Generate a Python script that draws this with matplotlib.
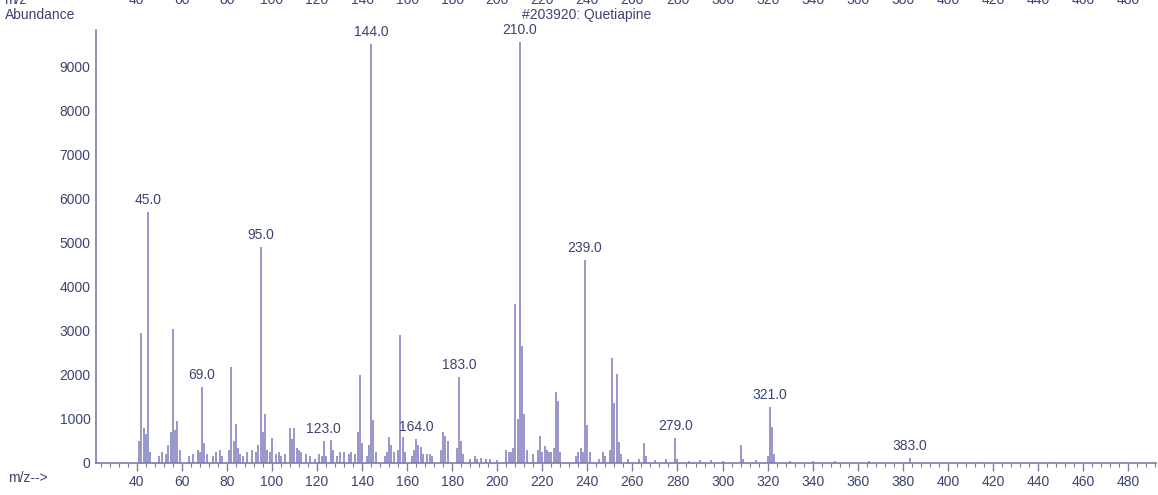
import matplotlib
matplotlib.use("Agg")
import matplotlib.pyplot as plt
from matplotlib.ticker import MultipleLocator
from matplotlib.transforms import blended_transform_factory

plt.rcParams["font.family"] = ["Liberation Sans", "DejaVu Sans"]

TITLE = "#203920: Quetiapine"

# ion m/z and abundance
mz = [41, 42, 43, 44, 45, 46, 50, 51, 53, 54, 55, 56, 57, 58, 59,
      63, 65, 67, 68, 69, 70, 71, 74, 75, 77, 78,
      81, 82, 83, 84, 85, 86, 87, 89, 91, 93, 94, 95, 96, 97, 98, 99, 100,
      102, 103, 104, 106, 108, 109, 110, 111, 112, 113, 115, 117, 119,
      121, 122, 123, 124, 126, 127, 129, 130, 132, 134, 135, 137,
      138, 139, 140, 142, 143, 144, 145, 146,
      150, 151, 152, 153, 154, 156, 157, 158, 159,
      162, 163, 164, 165, 166, 167, 169, 170, 171,
      175, 176, 177, 178, 182, 183, 184, 185,
      188, 190, 191, 193, 195, 197, 200,
      204, 205, 206, 207, 208, 209, 210, 211, 212, 213,
      216, 218, 219, 220, 221, 222, 223, 224, 225, 226, 227, 228,
      235, 236, 237, 238, 239, 240, 241,
      245, 247, 248, 250, 251, 252, 253, 254, 255,
      258, 263, 265, 266, 270, 275, 279, 280, 285, 290, 295, 300,
      308, 309, 315, 320, 321, 322, 323, 330, 340, 350, 365, 383]
abundance = [500, 2950, 800, 650, 5700, 250, 150, 250, 200, 400, 700, 3040, 750, 960, 300,
             150, 200, 300, 250, 1720, 450, 200, 150, 250, 300, 150,
             300, 2180, 500, 880, 350, 200, 150, 250, 300, 250, 400, 4900, 700, 1100, 300, 250, 560,
             200, 250, 150, 200, 800, 550, 800, 350, 300, 250, 200, 150, 100,
             200, 150, 500, 150, 520, 300, 150, 250, 250, 200, 250, 200,
             700, 2000, 450, 150, 400, 9500, 970, 250,
             150, 250, 600, 400, 250, 300, 2900, 600, 250,
             150, 300, 550, 400, 370, 200, 200, 200, 150,
             300, 700, 620, 500, 350, 1950, 500, 200,
             100, 150, 100, 120, 100, 80, 60,
             300, 250, 250, 350, 3600, 1000, 9550, 2650, 1100, 300,
             200, 300, 620, 250, 380, 300, 250, 250, 350, 1620, 1400, 250,
             150, 250, 350, 250, 4600, 860, 250,
             100, 260, 150, 300, 2370, 1350, 2020, 480, 200,
             80, 100, 450, 150, 60, 80, 560, 100, 50, 60, 60, 50,
             410, 80, 60, 150, 1280, 820, 200, 50, 40, 40, 40, 110]

# annotated ions
label_mz = [45, 69, 95, 123, 144, 164, 183, 210, 239, 279, 321, 383]

# tick labels of the panel above (only their lower edge shows)
upper_ticks = list(range(40, 481, 20))

TEXT = "#3b4470"
PEAK = "#8f8fc6"
AXIS = "#7c7caa"

fig = plt.figure(figsize=(11.58, 4.95), dpi=100)
ax = fig.add_axes([96 / 1158, 32 / 495, (1156 - 96) / 1158, (463 - 30) / 495])

ax.vlines(mz, 0, abundance, color=PEAK, lw=1.3)

lookup = dict(zip(mz, abundance))
for m in label_mz:
    ax.annotate(f"{m:.1f}", (m, lookup[m]), xytext=(0, 5),
                textcoords="offset pixels", ha="center", va="bottom",
                fontsize=10, color=TEXT, annotation_clip=False)

ax.set_xlim(21.9, 492.4)
ax.set_ylim(0, 9820)
ax.xaxis.set_major_locator(MultipleLocator(20))
ax.xaxis.set_minor_locator(MultipleLocator(4))
ax.yaxis.set_major_locator(MultipleLocator(1000))
ax.set_xticks([t for t in range(40, 481, 20)])

for side in ("top", "right"):
    ax.spines[side].set_visible(False)
for side in ("left", "bottom"):
    ax.spines[side].set_color(AXIS)
    ax.spines[side].set_linewidth(1.2)

ax.tick_params(axis="x", which="major", direction="out", length=6, width=1,
               color=AXIS, labelcolor=TEXT, labelsize=10, pad=3)
ax.tick_params(axis="x", which="minor", direction="out", length=3, width=0.8,
               color=AXIS)
ax.tick_params(axis="y", length=0, pad=4, labelcolor=TEXT, labelsize=10)

fig.text(5 / 1158, 1 - 15 / 495, "Abundance", fontsize=10, color=TEXT,
         ha="left", va="center")
fig.text(8 / 1158, 1 - 478 / 495, "m/z-->", fontsize=10, color=TEXT,
         ha="left", va="center")
fig.text(587 / 1158, 1 - 15 / 495, TITLE, fontsize=10, color=TEXT,
         ha="center", va="center")

# clipped axis row from the panel above
trans = blended_transform_factory(ax.transData, fig.transFigure)
for t in upper_ticks:
    fig.text(t, 1.0, str(t), transform=trans, fontsize=10, color=TEXT,
             ha="center", va="center")
fig.text(15 / 1158, 1.0, "m/z", fontsize=10, color=TEXT, ha="center", va="center")

fig.savefig("out.png", dpi=100, facecolor="white")
